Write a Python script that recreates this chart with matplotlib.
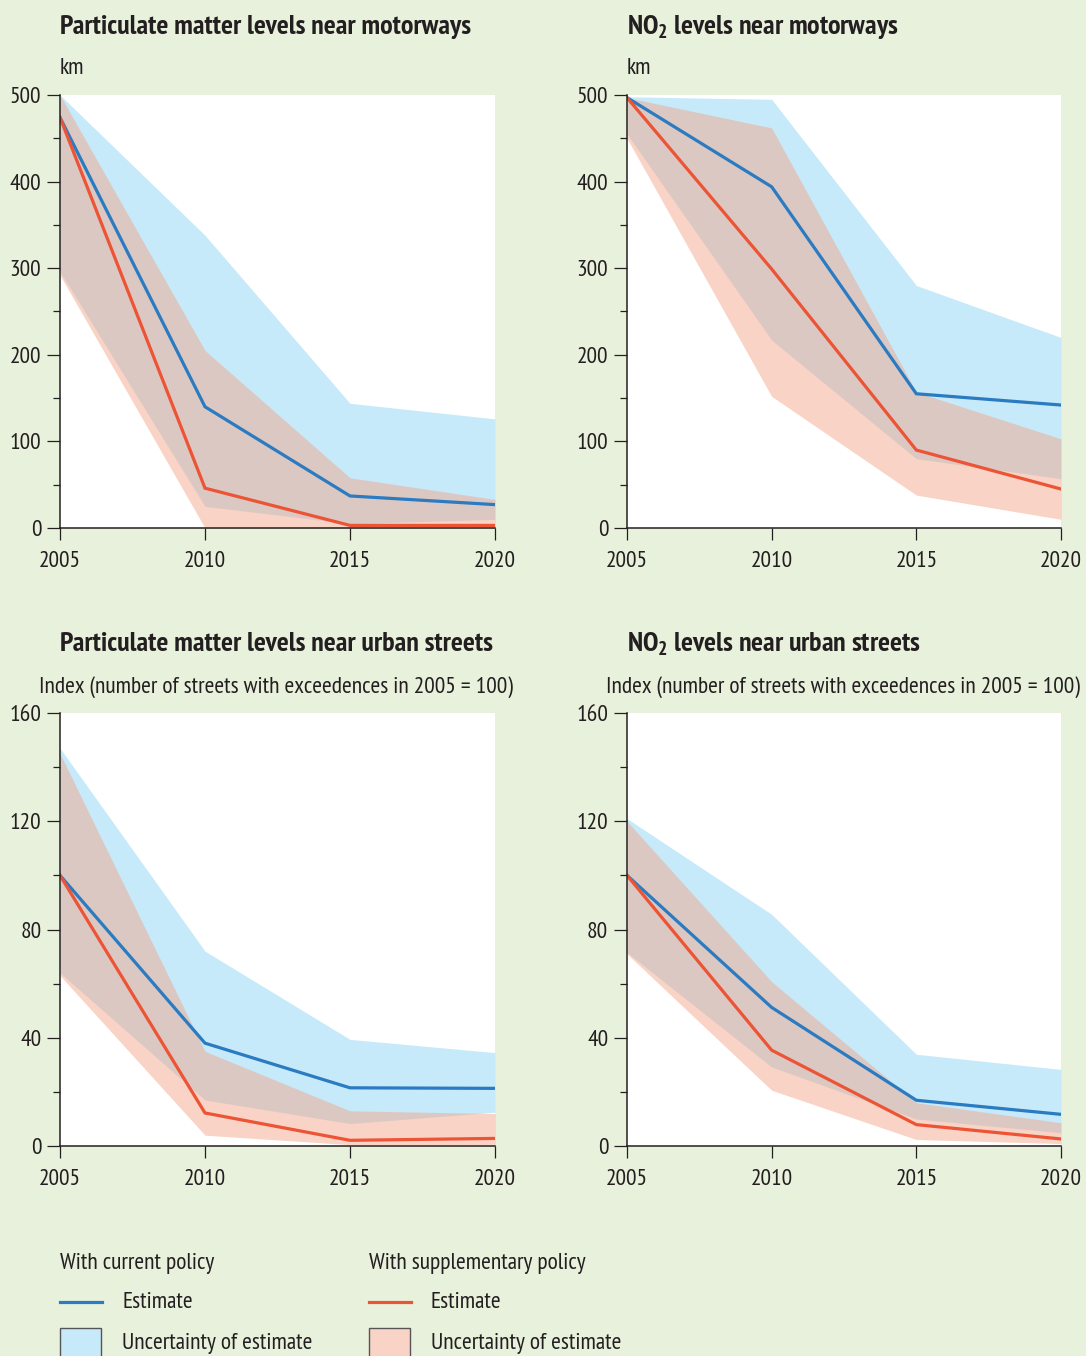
import matplotlib
matplotlib.use("Agg")
import matplotlib.pyplot as plt
from matplotlib import font_manager
from matplotlib.lines import Line2D
from matplotlib.patches import Rectangle
from matplotlib.ticker import MultipleLocator


# look for a narrow sans family that has both regular and bold
def wnum(f):
    if isinstance(f.weight, int):
        return f.weight
    return font_manager.weight_dict.get(f.weight, 400)


groups = {}
for f in font_manager.fontManager.ttflist:
    if f.style != 'normal':
        continue
    if ('Narrow' in f.name or 'Condensed' in f.name) and 'Extra' not in f.name \
            and 'Ultra' not in f.name:
        groups.setdefault(f.name, []).append(f)


def rank(name):
    fl = groups[name]
    both = any(380 <= wnum(f) <= 450 for f in fl) and any(wnum(f) >= 650 for f in fl)
    pref = 0 if 'Narrow' in name else (1 if 'Semi' in name else 2)
    return (0 if both else 1, pref, name)


FAMILY = sorted(groups, key=rank)[0] if groups else 'Liberation Sans'

plt.rcParams['font.family'] = [FAMILY, 'DejaVu Sans']
plt.rcParams['mathtext.fontset'] = 'custom'
plt.rcParams['mathtext.rm'] = FAMILY
plt.rcParams['mathtext.bf'] = FAMILY + ':bold'
plt.rcParams['text.color'] = '#231f20'

years = [2005, 2010, 2015, 2020]

# PM near motorways (km)
pm_mw_cur = [474, 140, 37, 27]
pm_mw_cur_lo = [296, 25, 5, 10]
pm_mw_cur_hi = [500, 338, 144, 126]
pm_mw_sup = [474, 46, 3, 3]
pm_mw_sup_lo = [292, 0, 0, 0]
pm_mw_sup_hi = [500, 205, 58, 33]

# NO2 near motorways (km)
no2_mw_cur = [497, 394, 155, 142]
no2_mw_cur_lo = [455, 217, 80, 57]
no2_mw_cur_hi = [498, 495, 280, 220]
no2_mw_sup = [497, 299, 90, 45]
no2_mw_sup_lo = [450, 152, 38, 10]
no2_mw_sup_hi = [497, 462, 157, 103]

# PM near urban streets (index)
pm_us_cur = [100, 38, 21.5, 21.3]
pm_us_cur_lo = [64, 17, 8.3, 12.5]
pm_us_cur_hi = [147, 72, 39.4, 34.5]
pm_us_sup = [100, 12.2, 2.1, 2.8]
pm_us_sup_lo = [63, 4, 0.5, 0.5]
pm_us_sup_hi = [145, 35, 13, 12]

# NO2 near urban streets (index)
no2_us_cur = [100, 51.2, 16.9, 11.7]
no2_us_cur_lo = [71.5, 29.2, 10, 4.9]
no2_us_cur_hi = [121, 85.6, 33.9, 28.3]
no2_us_sup = [100, 35.4, 7.9, 2.6]
no2_us_sup_lo = [71, 20.6, 2.4, 0.9]
no2_us_sup_hi = [120, 60.7, 16, 8.6]

index_label = 'Index (number of streets with exceedences in 2005 = 100)'

BG = '#e8f1dc'
BLUE = '#2a7bc1'
RED = '#ec5435'
BLUE_FILL = '#c6eaf9'
PINK_FILL = (243/255, 166/255, 137/255)
PINK_ALPHA = 0.49
TXT = '#231f20'

W, H = 1086, 1356
fig = plt.figure(figsize=(W/100, H/100), dpi=100, facecolor=BG)
renderer = fig.canvas.get_renderer()


def fit_size(s, target_w, base, **kw):
    t = fig.text(0, 0, s, fontsize=base, **kw)
    w = t.get_window_extent(renderer).width
    t.remove()
    return base * target_w / w


FS = fit_size(index_label, 477, 14)
FS_T = fit_size('Particulate matter levels near motorways', 411, 16.5, fontweight='bold')


def px_axes(l, t, r, b):
    return fig.add_axes([l/W, 1 - b/H, (r - l)/W, (b - t)/H])


def draw_panel(ax, cur, cur_lo, cur_hi, sup, sup_lo, sup_hi, ymax, major, minor):
    ax.set_facecolor('white')
    ax.fill_between(years, cur_lo, cur_hi, color=BLUE_FILL, lw=0)
    ax.fill_between(years, sup_lo, sup_hi, color=PINK_FILL, alpha=PINK_ALPHA, lw=0)
    ax.plot(years, cur, color=BLUE, lw=2.3, solid_joinstyle='miter')
    ax.plot(years, sup, color=RED, lw=2.3, solid_joinstyle='miter')
    ax.set_xlim(2005, 2020)
    ax.set_ylim(0, ymax)
    ax.set_xticks(years)
    ax.yaxis.set_major_locator(MultipleLocator(major))
    ax.yaxis.set_minor_locator(MultipleLocator(minor))
    for s in ['top', 'right']:
        ax.spines[s].set_visible(False)
    for s in ['left', 'bottom']:
        ax.spines[s].set_color(TXT)
        ax.spines[s].set_linewidth(1.1)
    ax.tick_params(axis='y', which='major', length=9.5, width=0.9, pad=4, labelsize=FS, colors=TXT)
    ax.tick_params(axis='y', which='minor', length=5, width=0.9, colors=TXT)
    ax.tick_params(axis='x', which='major', length=8.6, width=0.9, pad=8, labelsize=FS, colors=TXT)


ax1 = px_axes(60, 95, 495, 528)
draw_panel(ax1, pm_mw_cur, pm_mw_cur_lo, pm_mw_cur_hi, pm_mw_sup, pm_mw_sup_lo, pm_mw_sup_hi, 500, 100, 50)
ax2 = px_axes(627, 95, 1061, 528)
draw_panel(ax2, no2_mw_cur, no2_mw_cur_lo, no2_mw_cur_hi, no2_mw_sup, no2_mw_sup_lo, no2_mw_sup_hi, 500, 100, 50)
ax3 = px_axes(60, 713, 495, 1146)
draw_panel(ax3, pm_us_cur, pm_us_cur_lo, pm_us_cur_hi, pm_us_sup, pm_us_sup_lo, pm_us_sup_hi, 160, 40, 20)
ax4 = px_axes(627, 713, 1061, 1146)
draw_panel(ax4, no2_us_cur, no2_us_cur_lo, no2_us_cur_hi, no2_us_sup, no2_us_sup_lo, no2_us_sup_hi, 160, 40, 20)


def ftext(x, y, s, **kw):
    fig.text(x/W, 1 - y/H, s, va='center', ha='left', color=TXT, **kw)


# titles and units
ftext(60, 27, 'Particulate matter levels near motorways', fontsize=FS_T, fontweight='bold')
ftext(627, 27, r'NO$_\mathbf{2}$ levels near motorways', fontsize=FS_T, fontweight='bold')
ftext(60, 69, 'km', fontsize=FS)
ftext(627, 69, 'km', fontsize=FS)
ftext(60, 644, 'Particulate matter levels near urban streets', fontsize=FS_T, fontweight='bold')
ftext(627, 644, r'NO$_\mathbf{2}$ levels near urban streets', fontsize=FS_T, fontweight='bold')
ftext(39, 687, index_label, fontsize=FS)
ftext(606, 687, index_label, fontsize=FS)

# legend
for x0, head, lc, fc in [(60, 'With current policy', BLUE, BLUE_FILL),
                         (369, 'With supplementary policy', RED, '#f9d3c6')]:
    ftext(x0, 1263, head, fontsize=FS)
    fig.add_artist(Line2D([x0/W, (x0 + 42)/W], [1 - 1302/H, 1 - 1302/H],
                          color=lc, lw=2.3, transform=fig.transFigure))
    ftext(x0 + 62, 1302, 'Estimate', fontsize=FS)
    fig.add_artist(Rectangle((x0/W, 1 - 1360/H), 41/W, 32/H, facecolor=fc,
                             edgecolor='#555555', lw=1.0, transform=fig.transFigure))
    ftext(x0 + 62, 1343, 'Uncertainty of estimate', fontsize=FS)

fig.savefig('out.png', dpi=100, facecolor=BG)
